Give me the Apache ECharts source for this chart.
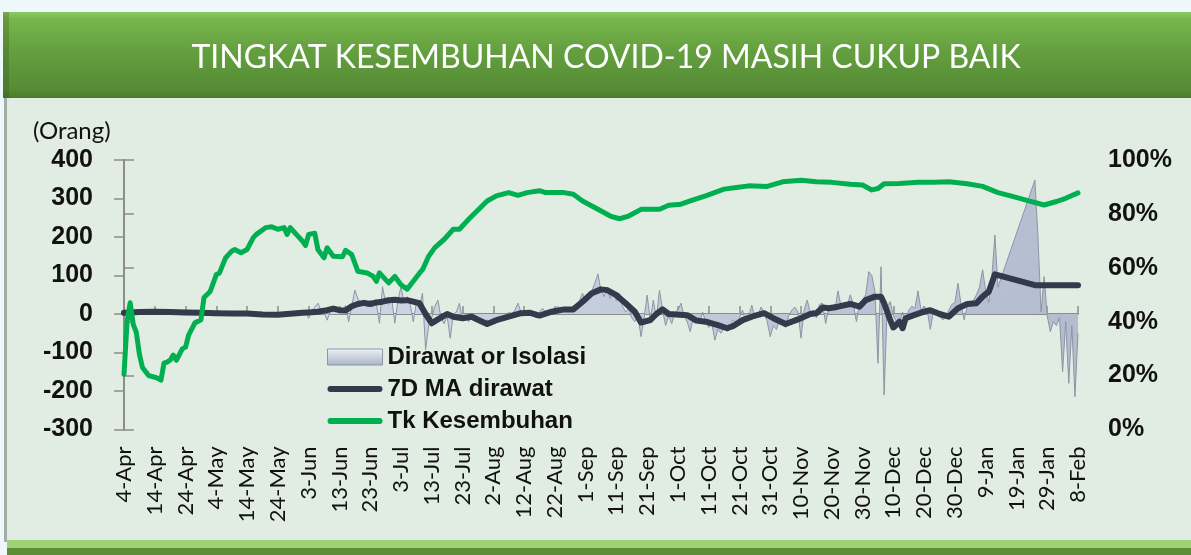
<!DOCTYPE html>
<html>
<head>
<meta charset="utf-8">
<script src="https://cdn.jsdelivr.net/npm/echarts@6.0.0/dist/echarts.min.js"></script>
<style>
  html, body { margin: 0; padding: 0; background: #eef7fa; }
  #chart { width: 1191px; height: 555px; }
</style>
</head>
<body>
<div id="chart"></div>
<script>
// day offsets are counted from 4-Apr (day 0) to 8-Feb (day 310)
const tickLabels = ['4-Apr', '14-Apr', '24-Apr', '4-May', '14-May', '24-May', '3-Jun', '13-Jun',
  '23-Jun', '3-Jul', '13-Jul', '23-Jul', '2-Aug', '12-Aug', '22-Aug', '1-Sep', '11-Sep', '21-Sep',
  '1-Oct', '11-Oct', '21-Oct', '31-Oct', '10-Nov', '20-Nov', '30-Nov', '10-Dec', '20-Dec', '30-Dec',
  '9-Jan', '19-Jan', '29-Jan', '8-Feb']

const leftTicks = [-300, -200, -100, 0, 100, 200, 300, 400]
const rightTicks = [0, 20, 40, 60, 80, 100]

// Dirawat or Isolasi (orang), [day, value]
const dirawat = [[0,0],[1,8],[2,3],[3,6],[5,4],[7,7],[9,5],[11,6],[13,4],[15,6],[17,3],[19,5],
  [21,4],[23,2],[25,4],[27,3],[29,2],[31,4],[33,1],[35,3],[37,2],[39,0],[41,3],[43,-2],[45,2],
  [47,0],[49,-3],[51,2],[53,4],[55,6],[57,2],[59,10],[60,-11],[61,8],[63,28],[64,10],[65,5],
  [66,-16],[67,6],[68,15],[69,8],[70,18],[71,10],[72,22],[73,-20],[74,20],[75,62],[76,40],
  [77,25],[78,30],[79,18],[80,36],[81,20],[82,28],[83,-24],[84,71],[85,30],[86,25],[87,40],
  [88,-24],[89,35],[90,71],[91,30],[92,45],[93,25],[94,-20],[95,30],[96,20],[97,54],[98,-93],
  [99,-30],[100,-10],[101,20],[102,36],[103,-10],[104,-25],[105,-5],[106,-63],[107,0],[108,5],
  [109,28],[110,-15],[111,-8],[112,-20],[113,-5],[114,-10],[115,-22],[116,-10],[117,-25],
  [118,-15],[119,-30],[120,-10],[121,-20],[122,-8],[123,-15],[124,-5],[125,5],[126,0],[127,10],
  [128,28],[129,5],[130,-5],[131,2],[132,8],[133,-5],[134,-10],[135,5],[136,15],[137,5],
  [138,-5],[139,8],[140,12],[141,20],[142,10],[143,18],[144,10],[145,8],[146,20],[147,15],
  [148,35],[149,54],[150,30],[151,45],[152,60],[153,80],[154,104],[155,60],[156,45],[157,70],
  [158,40],[159,60],[160,35],[161,54],[162,20],[163,5],[164,15],[165,-10],[166,-20],[167,-5],
  [168,-59],[169,-10],[170,49],[171,-15],[172,36],[173,-10],[174,62],[175,10],[176,-30],
  [177,-5],[178,-25],[179,5],[180,10],[181,28],[182,-5],[183,-20],[184,-46],[185,-10],
  [186,-15],[187,-25],[188,5],[189,-20],[190,-35],[191,-25],[192,-68],[193,-40],[194,-50],
  [195,-35],[196,-45],[197,-30],[198,-15],[199,-25],[200,-10],[201,10],[202,-20],[203,-5],
  [204,23],[205,-10],[206,-5],[207,18],[208,5],[209,-20],[210,-59],[211,-30],[212,-40],
  [213,-15],[214,-25],[215,-35],[216,-5],[217,10],[218,18],[219,5],[220,-63],[221,10],[222,36],
  [223,5],[224,10],[225,-10],[226,25],[227,28],[228,-25],[229,15],[230,20],[231,10],[232,60],
  [233,20],[234,30],[235,20],[236,50],[237,25],[238,-20],[239,30],[240,35],[241,50],[242,110],
  [243,100],[244,60],[245,-128],[246,123],[247,-210],[248,20],[249,32],[250,-5],[251,-20],
  [252,-25],[253,5],[254,-30],[255,10],[256,20],[257,15],[258,60],[259,10],[260,20],[261,10],
  [262,-40],[263,5],[264,10],[265,-5],[266,-15],[267,-10],[268,10],[269,25],[270,30],[271,80],
  [272,25],[273,-15],[274,20],[275,30],[276,35],[277,50],[278,70],[279,115],[280,60],[281,30],
  [282,95],[283,205],[284,70],[296,348],[297,200],[298,5],[299,97],[300,-5],[301,-46],
  [302,-20],[303,-30],[304,-10],[305,-150],[306,-20],[307,-180],[308,-30],[309,-215],[310,-50]]

// 7D MA dirawat (orang), [day, value]
const ma7 = [[0,3],[5,5],[10,6],[15,5],[20,4],[25,3],[30,2],[35,1],[40,1],[45,-1],[50,-2],[55,1],
  [58,3],[60,4],[63,6],[66,10],[68,14],[70,10],[72,9],[74,20],[76,26],[78,29],[80,26],[82,30],
  [84,32],[86,36],[88,37],[90,35],[92,36],[94,32],[96,28],[98,0],[100,-24],[102,-14],[105,0],
  [107,-7],[110,-11],[113,-7],[115,-15],[118,-26],[121,-16],[125,-7],[129,2],[132,3],[135,-4],
  [139,6],[143,12],[146,12],[149,32],[152,54],[155,64],[157,62],[160,49],[163,28],[166,6],
  [168,-22],[171,-16],[173,0],[175,12],[177,0],[183,-3],[186,-17],[189,-20],[193,-29],
  [196,-37],[198,-31],[201,-16],[204,-7],[208,2],[211,-11],[215,-26],[219,-14],[223,0],[225,2],
  [227,17],[229,15],[232,19],[236,26],[239,19],[241,36],[244,45],[246,45],[247,28],[249,-16],
  [250,-35],[252,-20],[253,-37],[254,-11],[256,-5],[260,6],[262,10],[265,0],[268,-7],[271,15],
  [274,26],[277,28],[279,45],[281,58],[283,103],[290,88],[296,75],[310,75]]

// Tk Kesembuhan (%), [day, value]
const recovery = [[0,20.5],[1,40],[2,47],[3,39],[4,36],[5,28],[6,23],[8,20],[10,19.4],[11,19],
  [12,18.3],[13,24.6],[14,25],[15,25.7],[16,27.6],[17,25.7],[19,30],[20,30.6],[21,35],[23,39.5],
  [25,40.7],[26,49],[28,51.2],[30,57.5],[31,58],[33,63.7],[35,66.2],[36,66.8],[38,65.6],
  [40,66.8],[42,71.2],[43,72.4],[46,74.9],[48,75.2],[50,74.3],[52,74.9],[53,72.4],[54,74.9],
  [56,72.4],[58,69.9],[59,68.3],[60,72.4],[62,72.8],[63,66.8],[65,63.7],[66,67.4],[68,64.3],
  [71,64.1],[72,66.5],[74,64.9],[76,58.7],[79,58.1],[81,56.8],[82,55],[83,58.1],[85,55.6],
  [86,54.4],[88,56.8],[90,53.7],[92,52.1],[94,55],[96,58],[97,59.3],[99,64.3],[101,67.5],
  [104,70.5],[107,74.3],[109,74.3],[112,78],[118,84.8],[121,86.7],[125,87.9],[128,86.9],
  [131,87.9],[135,88.6],[137,87.9],[143,87.9],[146,87.3],[149,84.8],[154,81.7],[158,79.2],
  [161,78.2],[164,79.2],[168,81.7],[174,81.7],[177,83.2],[181,83.6],[184,84.8],[189,86.7],
  [195,89.2],[199,89.8],[203,90.4],[209,90.2],[214,91.9],[220,92.5],[225,91.9],[230,91.7],
  [236,91],[240,90.7],[243,88.9],[245,89.4],[247,91.2],[252,91.3],[258,91.7],[263,91.7],
  [268,91.9],[274,91.2],[279,90.2],[284,87.9],[289,86.4],[294,84.8],[299,83.3],[303,84.6],
  [306,85.8],[310,87.8]]

const chart = echarts.init(document.getElementById('chart'))

const labelFont = 'Lato, "Open Sans", sans-serif'
const boldFont = '"Liberation Sans", Arial, sans-serif'
const axisGrey = '#8c8c8c'
// flat rounded bar used as legend icon for the two lines
const lineIcon = 'path://M3,0h49a3,3 0 0 1 0,6h-49a3,3 0 0 1 0,-6z'

chart.setOption({
  backgroundColor: '#eef7fa',
  animation: false,
  textStyle: { fontFamily: labelFont },
  graphic: [
    // panel behind the chart
    { type: 'rect', z: -10, shape: { x: 4, y: 97, width: 1190, height: 445 }, style: { fill: '#e1ede3' } },
    { type: 'rect', z: -9, shape: { x: 4, y: 97, width: 3, height: 445 }, style: { fill: '#a3ada5' } },
    // title banner
    {
      type: 'rect', z: -8,
      shape: { x: 3, y: 12, width: 1190, height: 86 },
      style: {
        fill: new echarts.graphic.LinearGradient(0, 0, 0, 1, [
          { offset: 0, color: '#8ccb5e' },
          { offset: 0.08, color: '#78b64c' },
          { offset: 0.45, color: '#649f3f' },
          { offset: 0.9, color: '#568c35' },
          { offset: 1, color: '#4a7b2c' }
        ])
      }
    },
    { type: 'rect', z: -7, shape: { x: 3, y: 12, width: 6, height: 86 }, style: { fill: 'rgba(40,70,20,0.25)' } },
    {
      type: 'text', z: 10, x: 606, y: 58,
      style: {
        text: 'TINGKAT KESEMBUHAN COVID-19 MASIH CUKUP BAIK',
        fill: '#ffffff', font: 'normal 32px ' + labelFont,
        align: 'center', verticalAlign: 'middle'
      }
    },
    // bottom bar
    { type: 'rect', z: -8, shape: { x: 7, y: 540, width: 1190, height: 8 }, style: { fill: '#9fd274' } },
    { type: 'rect', z: -8, shape: { x: 7, y: 548, width: 1190, height: 8 }, style: { fill: '#5b8c37' } },
    // unit label
    {
      type: 'text', z: 10, x: 33, y: 131,
      style: { text: '(Orang)', fill: '#111', font: 'normal 24px ' + labelFont, verticalAlign: 'middle' }
    }
  ],
  legend: {
    orient: 'vertical',
    left: 327,
    top: 345,
    padding: 0,
    itemWidth: 55,
    itemHeight: 16,
    itemGap: 8,
    textStyle: { fontFamily: boldFont, fontWeight: 'bold', fontSize: 24, color: '#111' },
    data: [
      {
        name: 'Dirawat or Isolasi',
        icon: 'rect',
        itemStyle: {
          color: new echarts.graphic.LinearGradient(0, 0, 0, 1, [
            { offset: 0, color: '#eef2f8' },
            { offset: 1, color: '#aab4c7' }
          ]),
          borderColor: '#8d96a8',
          borderWidth: 1
        }
      },
      { name: '7D MA dirawat', icon: lineIcon, itemStyle: { color: '#323a4b' } },
      { name: 'Tk Kesembuhan', icon: lineIcon, itemStyle: { color: '#00b050' } }
    ]
  },
  grid: { left: 124, right: 113, top: 160, bottom: 125.5 },
  xAxis: [
    {
      type: 'value', min: 0, max: 310, interval: 10,
      position: 'bottom',
      axisLine: { onZero: true, lineStyle: { color: axisGrey, width: 2 } },
      axisTick: { inside: true, length: 8, lineStyle: { color: axisGrey, width: 1.5 } },
      axisLabel: { show: false },
      splitLine: { show: false }
    },
    {
      type: 'value', min: 0, max: 310, interval: 10,
      position: 'bottom',
      axisLine: { show: false, onZero: false },
      axisTick: { show: false },
      splitLine: { show: false },
      axisLabel: {
        rotate: 90, margin: 17, fontSize: 22, color: '#111', fontFamily: labelFont,
        formatter: v => tickLabels[Math.round(v / 10)] || ''
      }
    }
  ],
  yAxis: [
    {
      type: 'value', min: leftTicks[0], max: leftTicks[leftTicks.length - 1], interval: 100,
      axisLine: { show: true, lineStyle: { color: axisGrey, width: 2 } },
      axisTick: { show: true, length: 10, lineStyle: { color: axisGrey, width: 1.5 } },
      splitLine: { show: false },
      axisLabel: { margin: 31, fontSize: 25, fontWeight: 'bold', color: '#111', fontFamily: boldFont }
    },
    {
      type: 'value', min: rightTicks[0], max: rightTicks[rightTicks.length - 1], interval: 20,
      position: 'right',
      axisLine: { show: true, lineStyle: { color: axisGrey, width: 2 } },
      axisTick: { show: true, length: 10, lineStyle: { color: axisGrey, width: 1.5 } },
      splitLine: { show: false },
      axisLabel: { margin: 30, fontSize: 25, fontWeight: 'bold', color: '#111', fontFamily: boldFont, formatter: '{value}%' }
    }
  ],
  series: [
    {
      name: 'Dirawat or Isolasi',
      type: 'line',
      data: dirawat,
      symbol: 'none',
      color: '#bcc6d8',
      lineStyle: { color: '#8e94a3', width: 1 },
      areaStyle: {
        color: new echarts.graphic.LinearGradient(0, 0, 1, 1, [
          { offset: 0, color: '#d6deec' },
          { offset: 1, color: '#b2bccf' }
        ]),
        opacity: 1
      },
      z: 2
    },
    {
      name: '7D MA dirawat',
      type: 'line',
      data: ma7,
      symbol: 'none',
      color: '#323a4b',
      lineStyle: { color: '#323a4b', width: 6, cap: 'round', join: 'round' },
      z: 3
    },
    {
      name: 'Tk Kesembuhan',
      type: 'line',
      yAxisIndex: 1,
      data: recovery,
      symbol: 'none',
      color: '#00b050',
      lineStyle: { color: '#00b050', width: 5, cap: 'round', join: 'round' },
      z: 4
    }
  ]
})
</script>
</body>
</html>
